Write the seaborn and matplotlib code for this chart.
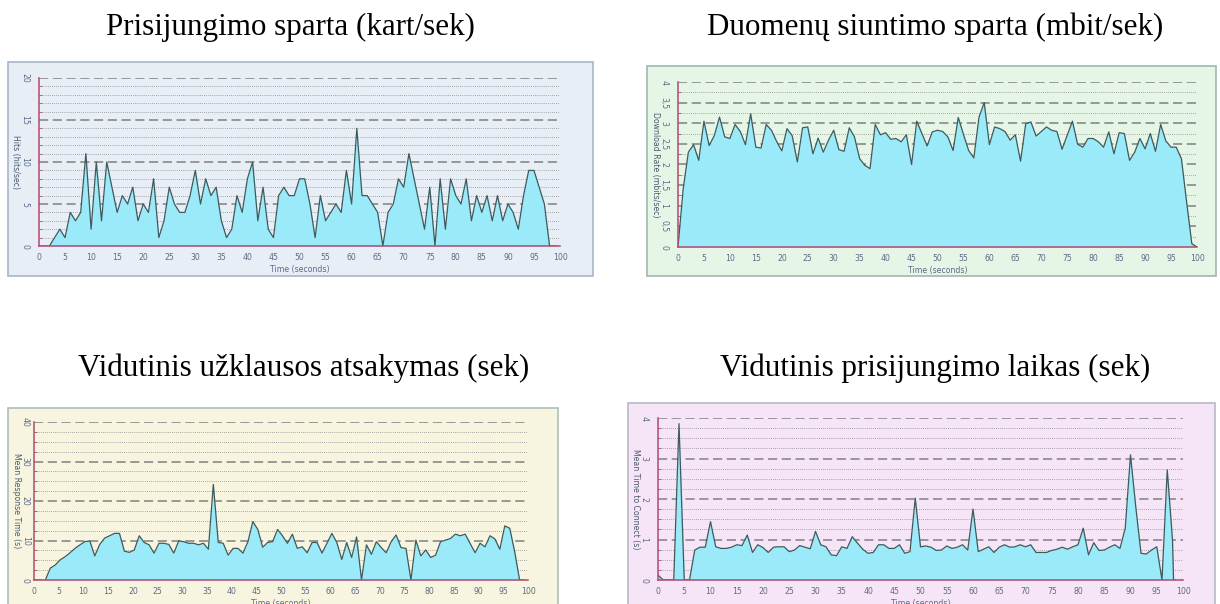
import numpy as np
import pandas as pd
import matplotlib
matplotlib.use('Agg')
import matplotlib.pyplot as plt
from matplotlib.patches import Rectangle
from matplotlib.ticker import MultipleLocator
import seaborn as sns

# titles and labels
titles = ['Prisijungimo sparta (kart/sek)', 'Duomenų siuntimo sparta (mbit/sek)',
          'Vidutinis užklausos atsakymas (sek)', 'Vidutinis prisijungimo laikas (sek)']
ylabels = ['Hits (hits/sec)', 'Download Rate (mbits/sec)',
           'Mean Response Time (s)', 'Mean Time to Connect (s)']
xlabel = 'Time (seconds)'
x_ticks = list(range(0, 101, 5))

# hits per second
hits_time = list(range(2, 99))
hits = [0, 1, 2, 1, 4, 3, 4, 11, 2, 10,
        3, 10, 7, 4, 6, 5, 7, 3, 5, 4,
        8, 1, 3, 7, 5, 4, 4, 6, 9, 5,
        8, 6, 7, 3, 1, 2, 6, 4, 8, 10,
        3, 7, 2, 1, 6, 7, 6, 6, 8, 8,
        5, 1, 6, 3, 4, 5, 4, 9, 5, 14,
        6, 6, 5, 4, 0, 4, 5, 8, 7, 11,
        8, 5, 2, 7, 0, 8, 2, 8, 6, 5,
        8, 3, 6, 4, 6, 3, 6, 3, 5, 4,
        2, 6, 9, 9, 7, 5, 0]
hits_yticks = [0, 5, 10, 15, 20]
hits_ylabels = ['0', '5', '10', '15', '20']

# download rate
rate_time = list(range(0, 101))
rate = [0, 1.41, 2.3, 2.48, 2.1, 3.05, 2.46, 2.7, 3.15, 2.67,
        2.63, 2.97, 2.8, 2.48, 3.23, 2.42, 2.4, 2.97, 2.83, 2.56,
        2.33, 2.87, 2.7, 2.06, 2.89, 2.91, 2.26, 2.64, 2.3, 2.59,
        2.83, 2.36, 2.32, 2.89, 2.67, 2.14, 1.98, 1.9, 2.97, 2.72,
        2.77, 2.61, 2.63, 2.55, 2.72, 2.0, 3.05, 2.75, 2.45, 2.79,
        2.83, 2.8, 2.67, 2.34, 3.14, 2.73, 2.34, 2.16, 3.15, 3.5,
        2.48, 2.91, 2.87, 2.8, 2.59, 2.72, 2.08, 2.99, 3.03, 2.69,
        2.8, 2.91, 2.83, 2.8, 2.37, 2.71, 3.05, 2.49, 2.42, 2.63,
        2.63, 2.55, 2.42, 2.79, 2.26, 2.77, 2.75, 2.1, 2.3, 2.63,
        2.38, 2.75, 2.32, 2.97, 2.57, 2.42, 2.42, 2.14, 1.09, 0.08, 0]
rate_yticks = [0, 0.5, 1, 1.5, 2, 2.5, 3, 3.5, 4]
rate_ylabels = ['0', '0,5', '1', '1,5', '2', '2,5', '3', '3,5', '4']

# mean response time
resp_time = [t + 0.3 for t in range(2, 99)]
resp = [0, 3, 3.8, 5.1, 5.9, 6.9, 8, 8.9, 9.7, 9.9,
        6.1, 9, 10.6, 11.2, 11.8, 11.8, 7.3, 7.0, 7.6, 11.2,
        9.5, 8.9, 6.8, 9.3, 9.3, 9.0, 6.8, 9.9, 9.7, 9.3,
        9.3, 8.9, 9.3, 7.8, 24.2, 9.5, 9.3, 6.3, 8, 8,
        6.8, 9.7, 14.8, 12.8, 8.3, 9.5, 9.7, 12.8, 11.2, 9.3,
        11.6, 8.0, 8.4, 6.9, 9.5, 9.5, 6.8, 9.3, 11.8, 9.5,
        5.2, 9.5, 5.7, 10.9, 0, 8.9, 6.5, 9.7, 8.2, 6.9,
        9.7, 11.4, 8.2, 8.0, 0, 10.1, 6.1, 7.6, 5.7, 6.3,
        9.7, 10.1, 10.5, 11.6, 11.2, 11.6, 9.2, 6.9, 9.3, 8.4,
        11.2, 10.4, 7.8, 13.7, 13.1, 7.2, 0]
resp_yticks = [0, 10, 20, 30, 40]
resp_ylabels = ['0', '10', '20', '30', '40']

# mean time to connect
conn_time = list(range(0, 99)) + [98.2]
conn = [0.12, 0, 0, 0, 3.86, 0, 0, 0.74, 0.81, 0.81,
        1.44, 0.82, 0.78, 0.78, 0.81, 0.87, 0.85, 1.11, 0.68, 0.87,
        0.8, 0.68, 0.81, 0.82, 0.82, 0.7, 0.74, 0.85, 0.81, 0.77,
        1.2, 0.87, 0.82, 0.62, 0.6, 0.82, 0.78, 1.07, 0.91, 0.76,
        0.66, 0.68, 0.87, 0.87, 0.78, 0.78, 0.87, 0.66, 0.7, 2.02,
        0.82, 0.84, 0.81, 0.73, 0.74, 0.84, 0.78, 0.81, 0.87, 0.74,
        1.75, 0.7, 0.76, 0.82, 0.68, 0.81, 0.87, 0.81, 0.82, 0.87,
        0.82, 0.87, 0.68, 0.68, 0.68, 0.73, 0.76, 0.81, 0.76, 0.82,
        0.87, 1.28, 0.62, 0.92, 0.73, 0.74, 0.81, 0.87, 0.78, 1.28,
        3.09, 1.81, 0.66, 0.64, 0.74, 0.82, 0, 2.72, 0.99, 0]
conn_yticks = [0, 1, 2, 3, 4]
conn_ylabels = ['0', '1', '2', '3', '4']

sns.set_style('white')
plt.rcParams['font.family'] = ['DejaVu Sans']

W, H = 1220, 604
fig = plt.figure(figsize=(W / 100, H / 100), dpi=100)
fig.patch.set_facecolor('white')

def frect(x0, y0, x1, y1):
    # pixel box -> figure fraction
    return [x0 / W, 1 - y1 / H, (x1 - x0) / W, (y1 - y0) / H]

panels = [
    dict(t=hits_time, v=hits, yt=hits_yticks, yl=hits_ylabels, minor=1,
         box=(8, 62, 593, 276), ax=(39, 78, 560, 246), title=(290, 35),
         bg='#e8eef6', edge='#a6b6cc', lab=24, tl=5, tp=2),
    dict(t=rate_time, v=rate, yt=rate_yticks, yl=rate_ylabels, minor=0.25,
         box=(647, 66, 1216, 276), ax=(678, 82, 1197, 247), title=(935, 35),
         bg='#e6f6e6', edge='#9fb8b0', lab=23, tl=5, tp=2),
    dict(t=resp_time, v=resp, yt=resp_yticks, yl=resp_ylabels, minor=2.5,
         box=(8, 408, 558, 608), ax=(34, 422, 528, 580), title=(304, 376),
         bg='#f7f5df', edge='#a9c0bb', lab=18, tl=2, tp=1),
    dict(t=conn_time, v=conn, yt=conn_yticks, yl=conn_ylabels, minor=0.25,
         box=(628, 403, 1215, 608), ax=(658, 418, 1183, 580), title=(935, 376),
         bg='#f5e5f6', edge='#b8b8c8', lab=23, tl=5, tp=2),
]

spine_col = '#b04a72'
tick_col = '#5b6b86'
fill_col = '#9aeafa'
line_col = '#3f5a5c'

for i, p in enumerate(panels):
    x0, y0, x1, y1 = p['box']
    fig.patches.append(Rectangle((x0 / W, 1 - y1 / H), (x1 - x0) / W, (y1 - y0) / H,
                                 transform=fig.transFigure, facecolor=p['bg'],
                                 edgecolor=p['edge'], linewidth=1.2, zorder=-5))
    fig.text(p['title'][0] / W, 1 - p['title'][1] / H, titles[i],
             ha='center', va='baseline', fontsize=22.3,
             family=['Liberation Serif', 'DejaVu Serif'], color='black')

    ax = fig.add_axes(frect(*p['ax']))
    ax.set_zorder(1)
    ax.set_facecolor('none')
    df = pd.DataFrame({'time': p['t'], 'value': p['v']})
    ax.fill_between(df['time'], df['value'], 0, color=fill_col, linewidth=0, zorder=2)
    sns.lineplot(data=df, x='time', y='value', ax=ax, color=line_col,
                 linewidth=0.9, zorder=3, estimator=None, sort=False)

    ax.set_xlim(0, 100)
    ax.set_ylim(0, p['yt'][-1])
    ax.set_xticks(x_ticks)
    ax.set_xticklabels([str(t) for t in x_ticks])
    ax.set_yticks(p['yt'])
    ax.set_yticklabels(p['yl'], rotation=270, va='center')
    ax.yaxis.set_minor_locator(MultipleLocator(p['minor']))

    ax.grid(False)
    ax.yaxis.grid(True, which='major', linestyle=(0, (6, 3)), color='#808080', linewidth=1.1)
    ax.yaxis.grid(True, which='minor', linestyle=(0, (1, 1.5)), color='#8c8c8c', linewidth=0.6)

    for s in ['top', 'right']:
        ax.spines[s].set_visible(False)
    for s in ['left', 'bottom']:
        ax.spines[s].set_color(spine_col)
        ax.spines[s].set_linewidth(1.1)
        ax.spines[s].set_zorder(4)

    ax.tick_params(axis='x', which='major', direction='out', length=3, width=0.8,
                   color=spine_col, labelsize=5.6, labelcolor=tick_col, pad=2)
    ax.tick_params(axis='y', which='major', direction='out', length=p['tl'], width=1.0,
                   color='#808080', labelsize=5.6, labelcolor=tick_col, pad=p['tp'])
    ax.tick_params(axis='y', which='minor', direction='in', length=2, width=0.6,
                   color=spine_col, left=True)

    ax.set_xlabel(xlabel, fontsize=5.6, color=tick_col, labelpad=2)
    ax.set_ylabel('')
    axw = p['ax'][2] - p['ax'][0]
    ax.text(-p['lab'] / axw, 0.5, ylabels[i], transform=ax.transAxes, rotation=270,
            ha='center', va='center', fontsize=5.6, color='#4a5a70')

fig.savefig('out.png', dpi=100, facecolor='white')
